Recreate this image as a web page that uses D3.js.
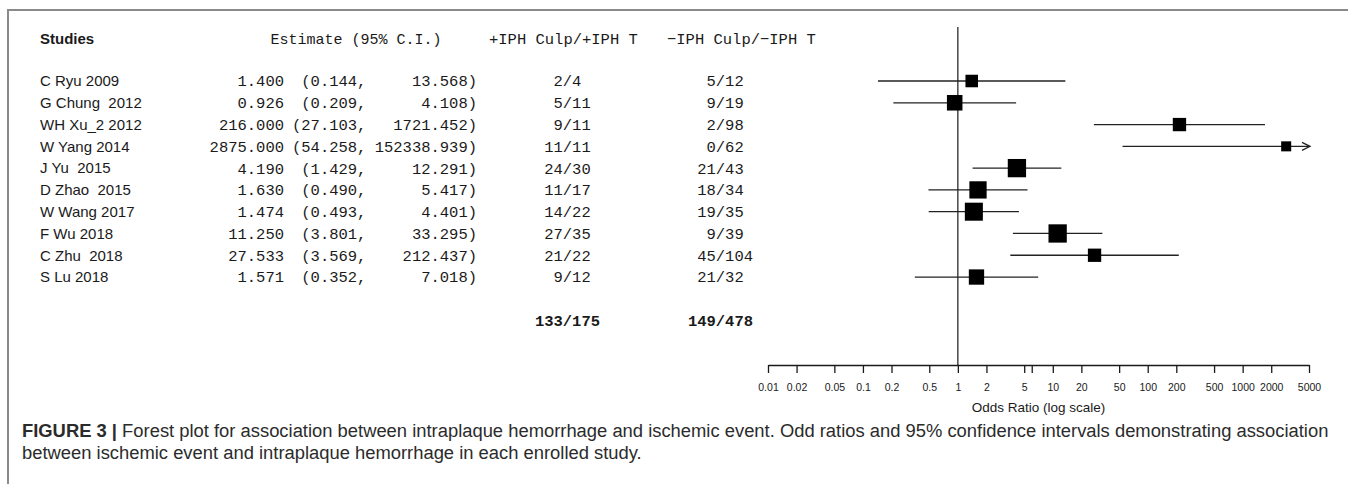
<!DOCTYPE html>
<html>
<head>
<meta charset="utf-8">
<script src="https://cdn.jsdelivr.net/npm/d3@7"></script>
<style>
  body { margin: 0; background: #fff; }
  svg text { white-space: pre; }
</style>
</head>
<body>
<svg class="chart"></svg>
<script>
// study table
var studies = ["C Ryu 2009", "G Chung  2012", "WH Xu_2 2012", "W Yang 2014", "J Yu  2015",
               "D Zhao  2015", "W Wang 2017", "F Wu 2018", "C Zhu  2018", "S Lu 2018"];
var est   = [1.400, 0.926, 216.000, 2875.000, 4.190, 1.630, 1.474, 11.250, 27.533, 1.571];
var lower = [0.144, 0.209, 27.103, 54.258, 1.429, 0.490, 0.493, 3.801, 3.569, 0.352];
var upper = [13.568, 4.108, 1721.452, 152338.939, 12.291, 5.417, 4.401, 33.295, 212.437, 7.018];
var posEvents = [2, 5, 9, 11, 24, 11, 14, 27, 21, 9];
var posTotal  = [4, 11, 11, 11, 30, 17, 22, 35, 22, 12];
var negEvents = [5, 9, 2, 0, 21, 18, 19, 9, 45, 21];
var negTotal  = [12, 19, 98, 62, 43, 34, 35, 39, 104, 32];
// relative box weight (box area) as drawn
var boxWeight = [47, 72, 53, 30, 100, 89, 97, 100, 53, 70];

var tickValues = [0.01, 0.02, 0.05, 0.1, 0.2, 0.5, 1, 2, 5, 6, 10, 20, 50, 100, 200, 500, 1000, 2000, 5000];
var tickLabels = ["0.01", "0.02", "0.05", "0.1", "0.2", "0.5", "1", "2", "5", "", "10", "20", "50",
                  "100", "200", "500", "1000", "2000", "5000"];

var W = 1355, H = 484;
var sans = "'Liberation Sans', Arial, sans-serif";
var mono = "'Liberation Mono', 'Courier New', monospace";
var ink = "#1a1a1a";

var svg = d3.select(".chart").attr("width", W).attr("height", H);

// figure frame (top + left edge)
svg.append("line").attr("x1", 8).attr("x2", 1348).attr("y1", 10).attr("y2", 10)
    .attr("stroke", "#8a8a8a").attr("stroke-width", 2);
svg.append("line").attr("x1", 8).attr("x2", 8).attr("y1", 9).attr("y2", H)
    .attr("stroke", "#8a8a8a").attr("stroke-width", 2);

var data = studies.map(function(s, i) {
  return {name: s, est: est[i], lo: lower[i], hi: upper[i],
          pe: posEvents[i], pt: posTotal[i], ne: negEvents[i], nt: negTotal[i], w: boxWeight[i]};
});

var rows = d3.range(studies.length + 2);
var y = d3.scalePoint().domain(rows).range([81, 320.6]);

var x = d3.scaleLog().domain([0.01, 5000]).range([768, 1309]);
var size = d3.scaleSqrt().domain([0, 100]).range([0, 18.3]);

function frac(a, b) {
  var s = String(a), t = String(b);
  while (s.length < 2) s = " " + s;
  while (t.length < 3) t = t + " ";
  return s + "/" + t;
}

// header
var hy = 44;
svg.append("text").attr("x", 40).attr("y", hy).text("Studies")
    .attr("font-family", sans).attr("font-weight", "bold").attr("font-size", 15).attr("fill", ink);
svg.append("text").attr("x", 356).attr("y", hy).attr("text-anchor", "middle").text("Estimate (95% C.I.)")
    .attr("font-family", mono).attr("font-size", 15).attr("fill", ink);
svg.append("text").attr("x", 489).attr("y", hy).text("+IPH Culp/+IPH T")
    .attr("font-family", mono).attr("font-size", 15.5).attr("fill", ink);
svg.append("text").attr("x", 667).attr("y", hy).text("\u2212IPH Culp/\u2212IPH T")
    .attr("font-family", mono).attr("font-size", 15.5).attr("fill", ink);

// table rows
var row = svg.selectAll("g.row").data(data).enter().append("g").attr("class", "row")
    .attr("transform", function(d, i) { return "translate(0," + y(i) + ")"; })
    .attr("fill", ink);

row.append("text").attr("x", 40).attr("dy", "0.35em").text(d => d.name)
    .attr("font-family", sans).attr("font-size", 15);
row.append("text").attr("x", 284).attr("dy", "0.35em").attr("text-anchor", "end")
    .text(d => d.est.toFixed(3)).attr("font-family", mono).attr("font-size", 15.5);
row.append("text").attr("x", 292).attr("dy", "0.35em")
    .text(d => (d.lo < 10 ? " " : "") + "(" + d.lo.toFixed(3) + ",")
    .attr("font-family", mono).attr("font-size", 15.5);
row.append("text").attr("x", 477).attr("dy", "0.35em").attr("text-anchor", "end")
    .text(d => d.hi.toFixed(3) + ")").attr("font-family", mono).attr("font-size", 15.5);
row.append("text").attr("x", 600).attr("dy", "0.35em").attr("text-anchor", "end")
    .text(d => frac(d.pe, d.pt)).attr("font-family", mono).attr("font-size", 15.5);
row.append("text").attr("x", 753).attr("dy", "0.35em").attr("text-anchor", "end")
    .text(d => frac(d.ne, d.nt)).attr("font-family", mono).attr("font-size", 15.5);

// totals
var ty = y(rows.length - 1);
svg.append("text").attr("x", 600).attr("y", ty).attr("dy", "0.35em").attr("text-anchor", "end")
    .text(frac(d3.sum(posEvents), d3.sum(posTotal)))
    .attr("font-family", mono).attr("font-weight", "bold").attr("font-size", 15.5).attr("fill", ink);
svg.append("text").attr("x", 753).attr("y", ty).attr("dy", "0.35em").attr("text-anchor", "end")
    .text(frac(d3.sum(negEvents), d3.sum(negTotal)))
    .attr("font-family", mono).attr("font-weight", "bold").attr("font-size", 15.5).attr("fill", ink);

// axis
var axisY = 365;
svg.append("line").attr("x1", x(1)).attr("x2", x(1)).attr("y1", 27).attr("y2", axisY)
    .attr("stroke", ink).attr("stroke-width", 1.2);

var axis = svg.append("g").attr("transform", "translate(0," + axisY + ")")
    .call(d3.axisBottom(x).tickValues(tickValues).tickSize(8).tickSizeOuter(0)
      .tickFormat((d, i) => tickLabels[i]));
axis.select(".domain").attr("stroke", ink).attr("stroke-width", 1.3);
axis.selectAll(".tick line").attr("stroke", ink).attr("stroke-width", 1.3);
axis.selectAll(".tick text").attr("font-family", sans).attr("font-size", 10.5).attr("fill", ink)
    .attr("y", 19);

svg.append("text").attr("x", (x(0.01) + x(5000)) / 2).attr("y", 412).attr("text-anchor", "middle")
    .text("Odds Ratio (log scale)").attr("font-family", sans).attr("font-size", 13.5).attr("fill", ink);

// CI lines and boxes
var xmax = x.domain()[1];
var marks = svg.selectAll("g.mark").data(data).enter().append("g").attr("class", "mark")
    .attr("transform", function(d, i) { return "translate(0," + y(i) + ")"; });

marks.append("line")
    .attr("x1", d => x(Math.max(d.lo, x.domain()[0])))
    .attr("x2", d => x(Math.min(d.hi, xmax)))
    .attr("stroke", "#222").attr("stroke-width", 1.3);

marks.filter(d => d.hi > xmax).append("path")
    .attr("d", "M" + (x(xmax) - 7) + ",-4L" + (x(xmax) + 1) + ",0L" + (x(xmax) - 7) + ",4")
    .attr("fill", "none").attr("stroke", "#222").attr("stroke-width", 1.3);

marks.append("rect")
    .attr("x", d => x(d.est) - size(d.w) / 2)
    .attr("y", d => -size(d.w) / 2)
    .attr("width", d => size(d.w))
    .attr("height", d => size(d.w))
    .attr("fill", "#000");

// caption
var cap = svg.append("g").attr("font-family", sans).attr("fill", "#2b2b2b");
var l1 = cap.append("text").attr("x", 22).attr("y", 437).attr("font-size", 15);
l1.append("tspan").attr("font-weight", "bold").text("FIGURE 3 | ");
l1.append("tspan").text("Forest plot for association between intraplaque hemorrhage and ischemic event. Odd ratios and 95% confidence intervals demonstrating association");
var l2 = cap.append("text").attr("x", 22).attr("y", 459).attr("font-size", 15)
    .text("between ischemic event and intraplaque hemorrhage in each enrolled study.");
var fs = 15 * 1308 / l1.node().getComputedTextLength();
l1.attr("font-size", fs);
l2.attr("font-size", fs);
</script>
</body>
</html>
